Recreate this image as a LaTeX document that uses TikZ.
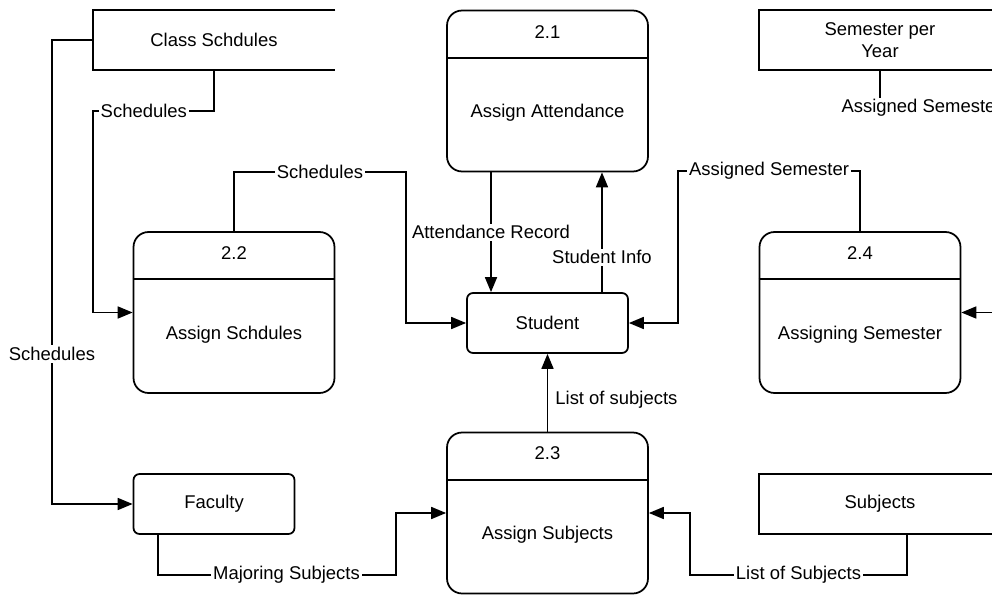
\documentclass[tikz,border=0pt]{standalone}
\usepackage{fontspec}
\setmainfont{Liberation Sans}
\usetikzlibrary{arrows.meta}
\tikzstyle{process} = [rectangle, rounded corners=0.3cm, minimum width=4.02cm, minimum height=3.22cm, draw=black, line width=1pt]
\tikzstyle{entity} = [rectangle, rounded corners=0.12cm, minimum width=3.22cm, minimum height=1.2cm, text centered, draw=black, line width=1pt]
\tikzstyle{store} = [rectangle, minimum width=4.84cm, minimum height=1.2cm, text centered, align=center]
\tikzstyle{flow} = [draw=black, line width=1pt, -{Triangle[length=3mm,width=2.4mm]}]
\tikzstyle{lbl} = [fill=white, inner sep=1pt]

\begin{document}
\begin{tikzpicture}[x=0.02cm, y=-0.02cm, font=\fontsize{10.5}{12.6}\selectfont]
\useasboundingbox (0,0) rectangle (992,595);
\clip (0,0) rectangle (992,595);

% processes
\node (p21) [process] at (547.5,91) {};
\node (p22) [process] at (234,312.5) {};
\node (p23) [process] at (547.5,513) {};
\node (p24) [process] at (860,312.5) {};
\foreach \n/\num/\name in {p21/2.1/Assign Attendance, p22/2.2/Assign Schdules, p23/2.3/Assign Subjects, p24/2.4/Assigning Semester} {
  \draw[line width=1pt] ([yshift=-0.96cm]\n.north west) -- ([yshift=-0.96cm]\n.north east);
  \node (\n-num) at ([yshift=-0.44cm]\n.north) {\num};
  \node (\n-name) at ([yshift=-0.44cm]\n.center) {\name};
}

% entities
\node (stu) [entity] at (547.5,323) {Student};
\node (fac) [entity] at (214,504) {Faculty};

% data stores
\node (cs) [store] at (214,40) {Class Schdules};
\node (sem) [store] at (880,40) {Semester per\\Year};
\node (subj) [store] at (880,504) {Subjects};
\foreach \s in {cs, sem, subj}
  \draw[line width=1pt] (\s.north east) -- (\s.north west) -- (\s.south west) -- (\s.south east);

% flows
\draw[flow] (cs.west) -| (52,354) node[lbl] {Schedules} |- (fac.west);
\draw[flow] (cs.south) |- node[lbl, pos=0.79] {Schedules} (93,111) |- (p22.west);
\draw[flow] (p22.north) |- node[lbl, pos=0.75] {Schedules} (406,172) |- (stu.west);
\draw[flow] ([xshift=-1.13cm]p21.south) -- node[lbl] {Attendance Record} ([xshift=-1.13cm]stu.north);
\draw[flow] ([xshift=1.09cm]stu.north) -- node[lbl, pos=0.29] {Student Info} ([xshift=1.09cm]p21.south);
\draw[flow] (p24.north) |- node[lbl, pos=0.75] {Assigned Semester} (678,171) |- (stu.east);
\draw[flow] (sem.south) |- node[lbl, pos=0.66] {Assigned Semester} (1010,108) |- (p24.east);
\draw[flow] (p23.north) -- node[lbl, right, xshift=3pt, pos=0.41] {List of subjects} (stu.south);
\draw[flow] ([xshift=-1.12cm]fac.south) |- node[lbl, pos=0.77] {Majoring Subjects} (396,575) |- (p23.west);
\draw[flow] ([xshift=0.54cm]subj.south) |- node[lbl, pos=0.75] {List of Subjects} (690,575) |- (p23.east);
\end{tikzpicture}
\end{document}
